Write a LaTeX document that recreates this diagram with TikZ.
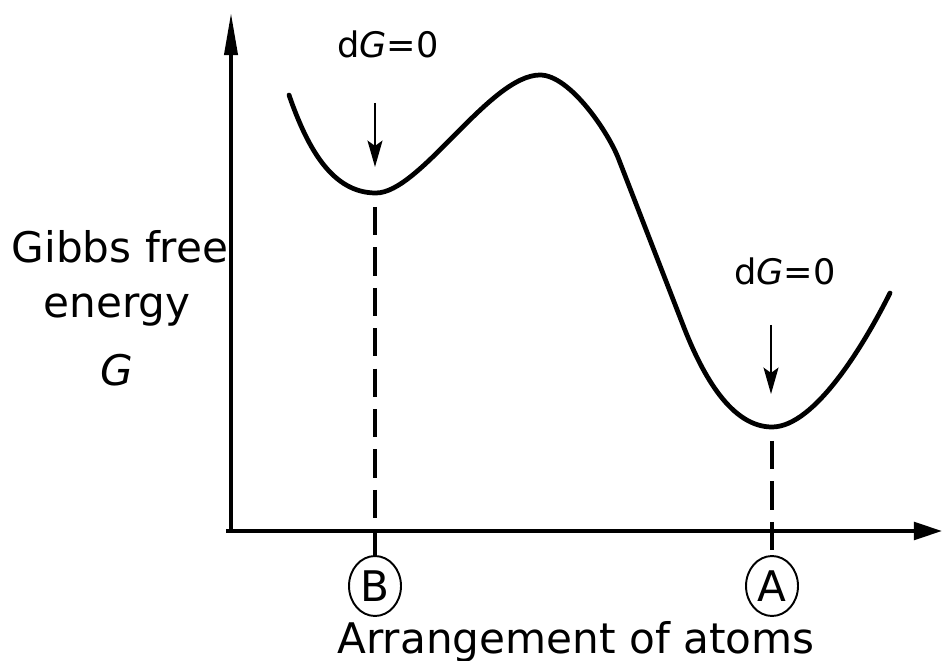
\documentclass[tikz,border=0pt]{standalone}
\usepackage{fontspec}
\setmainfont{DejaVu Sans}
\usetikzlibrary{arrows.meta,positioning,calc,shapes.geometric}
\tikzset{
  yaxis/.style={line width=2pt,-{Triangle[length=24pt,width=7.5pt]}},
  xaxis/.style={line width=2.2pt,-{Triangle[length=16pt,width=10pt]}},
  gcurve/.style={line width=2.7pt,line join=round,line cap=round},
  guide/.style={line width=1.8pt,dash pattern=on 16pt off 7pt},
  pointer/.style={line width=1.3pt,-{Stealth[length=15pt,width=8.5pt,inset=3pt]}},
  state/.style={
    ellipse,
    draw,
    line width=1.1pt,
    minimum width=1.04cm,
    minimum height=1.2cm,
    inner sep=0pt,
    font=\fontsize{24}{28}\selectfont
  },
  lbl/.style={font=\fontsize{24}{28}\selectfont,anchor=base},
  cond/.style={font=\fontsize{20}{24}\selectfont,anchor=base}
}

\begin{document}
\begin{tikzpicture}[x=0.02cm,y=-0.02cm]
        \useasboundingbox (0,0) rectangle (942,661);

        % axes
        \coordinate (origin) at (231,531);
        \coordinate (ytip) at (231,13);
        \coordinate (xstart) at (226,531);
        \coordinate (xtip) at (942,531);
        \draw[yaxis] (origin) -- (ytip);
        \draw[xaxis] (xstart) -- (xtip);

        % the two minima and the barrier
        \coordinate (minB) at (376,193);
        \coordinate (minA) at (772,427);
        \coordinate (peak) at (540,75);

        % free energy curve
        \draw[gcurve] (289,95) .. controls (308,150) and (333,193) .. (minB)
          .. controls (420,193) and (490,75) .. (peak)
          .. controls (570,75) and (609,133) .. (619,160)
          -- (683,325)
          .. controls (703,377) and (732,427) .. (minA)
          .. controls (815,427) and (865,343) .. (890,293);

        \node[state] (B) at (375,586) {B};
        \node[state] (A) at (772,586) {A};
        \draw[guide] ($(minB)+(-1,14)$) -- (B.north);
        \draw[guide] ($(minA)+(0,14)$) -- (A.north);

        % dG = 0 markers
        \node[cond] (condB) at (388,58) {d\textit{G}=0};
        \node[cond] (condA) at (785,285) {d\textit{G}=0};
        \coordinate (ptrB) at (375,103);
        \coordinate (ptrA) at (771,325);
        \draw[pointer] (ptrB) -- ($(minB)+(-1,-26)$);
        \draw[pointer] (ptrA) -- ($(minA)+(-1,-33)$);

        % axis labels
        \node[lbl] (glabel1) at (120,263) {Gibbs free};
        \node[lbl] (glabel2) at (117,318) {energy};
        \node[lbl] (glabel3) at (117,386) {\textit{G}};
        \node[lbl] (xlabel) at (576,653) {Arrangement of atoms};
\end{tikzpicture}
\end{document}
